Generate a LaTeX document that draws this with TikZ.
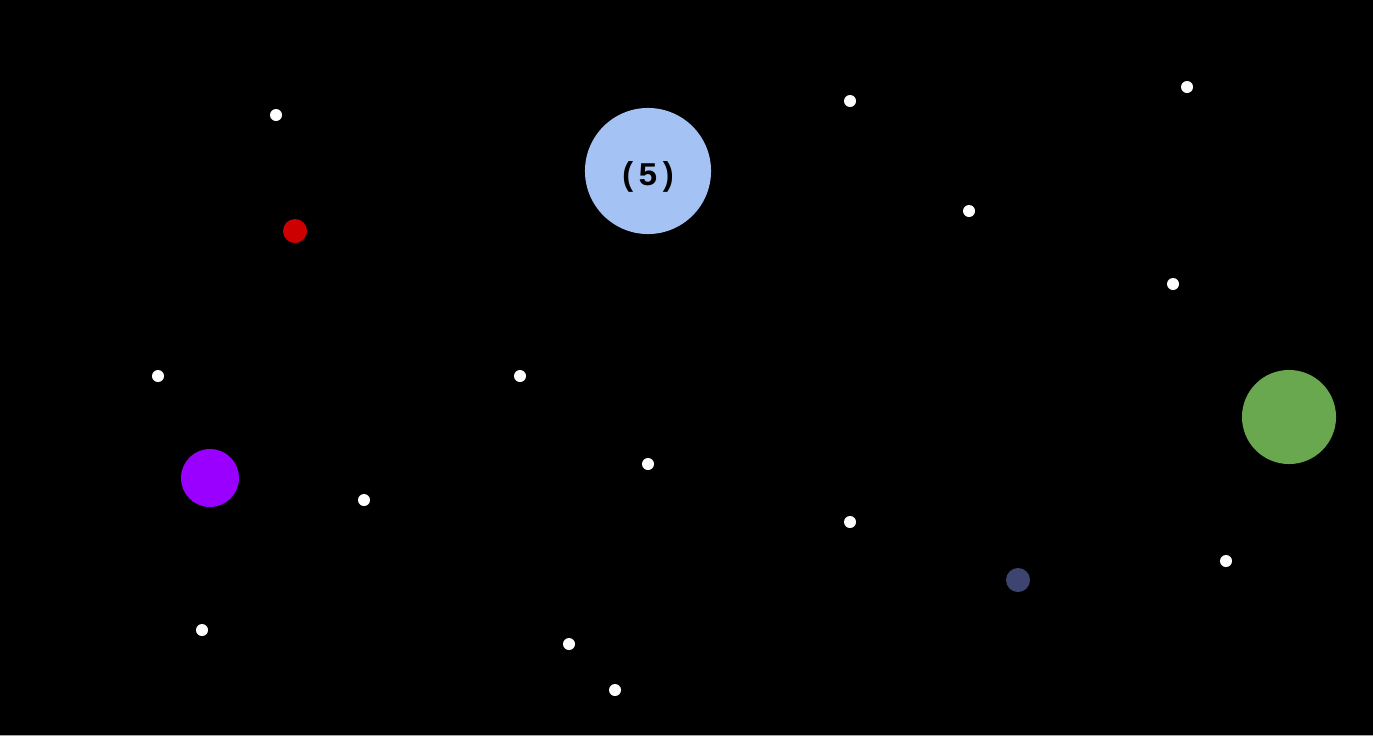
\documentclass[tikz,border=0pt]{standalone}
\usepackage{fontspec}
\usepackage{xcolor}
\usepackage{tikz}
\newfontfamily\monobold{Liberation Mono}
\definecolor{skyblue}{HTML}{A4C2F4}
\definecolor{redplanet}{HTML}{CC0000}
\definecolor{purpleplanet}{HTML}{9900FF}
\definecolor{greenplanet}{HTML}{6AA84F}
\definecolor{navyplanet}{HTML}{3D4470}

\begin{document}
\begin{tikzpicture}[x=0.01cm,y=-0.01cm]
    \tikzstyle{star}=[circle, fill=white, inner sep=0pt, minimum size=1.2mm]
    \tikzstyle{planet}=[circle, inner sep=0pt]
    \fill[gray!70] (0,0) rectangle (1373,736);
    \fill[black] (0,0) rectangle (1373,735);
    \useasboundingbox (0,0) rectangle (1373,736);
    % stars
    \node[star] (s1) at (276,115) {};
    \node[star] (s2) at (850,101) {};
    \node[star] (s3) at (1187,87) {};
    \node[star] (s4) at (969,211) {};
    \node[star] (s5) at (1173,284) {};
    \node[star] (s6) at (158,376) {};
    \node[star] (s7) at (520,376) {};
    \node[star] (s8) at (648,464) {};
    \node[star] (s9) at (364,500) {};
    \node[star] (s10) at (850,522) {};
    \node[star] (s11) at (1226,561) {};
    \node[star] (s12) at (202,630) {};
    \node[star] (s13) at (569,644) {};
    \node[star] (s14) at (615,690) {};
    % planets
    \node[planet, fill=skyblue, minimum size=12.6mm, text height=3.6mm, text depth=0.7mm,
          font=\monobold\bfseries\fontsize{9.4}{10}\selectfont] (big) at (648,171) {(5)};
    \node[planet, fill=redplanet, minimum size=2.4mm] (red) at (295,231) {};
    \node[planet, fill=purpleplanet, minimum size=5.8mm] (purple) at (210,478) {};
    \node[planet, fill=greenplanet, minimum size=9.4mm] (green) at (1289,417) {};
    \node[planet, fill=navyplanet, minimum size=2.4mm] (navy) at (1018,580) {};
\end{tikzpicture}
\end{document}
